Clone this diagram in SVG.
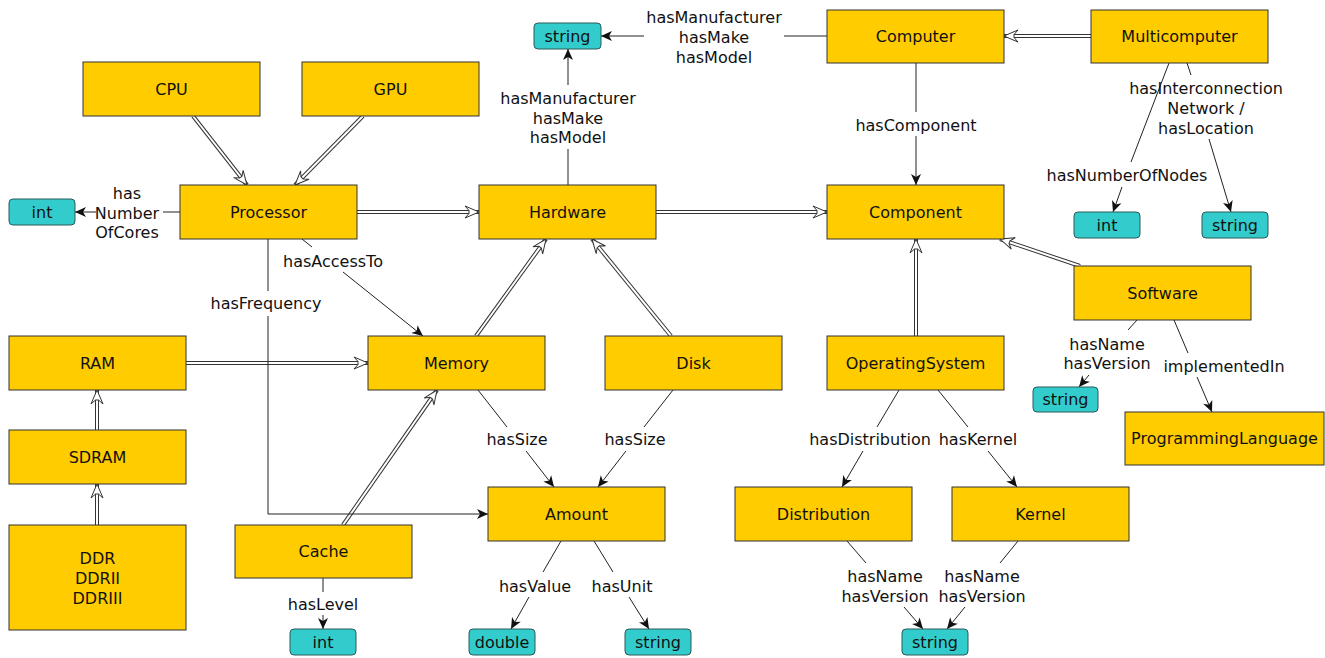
<svg xmlns="http://www.w3.org/2000/svg" width="1325" height="658" viewBox="0 0 1325 658">
<style>
.n{fill:#FFCC00;stroke:#333;stroke-width:1}
.d{fill:#33CCCC;stroke:#2a5a5a;stroke-width:1}
text{font-family:"DejaVu Sans","Liberation Sans",sans-serif;font-size:16px;text-anchor:middle;fill:#111}
.gb{fill:none;stroke:#333;stroke-width:4}
.gw{fill:none;stroke:#fff;stroke-width:2;marker-end:url(#gen)}
.a{fill:none;stroke:#222;stroke-width:1;marker-end:url(#arr)}
</style>
<defs>
<marker id="gen" markerUnits="userSpaceOnUse" viewBox="-16 -8 18 16" markerWidth="18" markerHeight="16" refX="0" refY="0" orient="auto" overflow="visible">
<path d="M0,0 L-14,-6 L-10,-1.5 L-10,1.5 L-14,6 Z" fill="#fff" stroke="#333" stroke-width="1"/>
</marker>
<marker id="arr" markerUnits="userSpaceOnUse" viewBox="-12 -6 14 12" markerWidth="14" markerHeight="12" refX="0" refY="0" orient="auto" overflow="visible">
<path d="M0,0 L-11,-5 L-8,0 L-11,5 Z" fill="#111"/>
</marker>
</defs>
<rect width="1325" height="658" fill="#fff"/>
<g id="connectors">
<path class="gb" d="M193,116 L247,185"/><path class="gw" d="M193,116 L247,185"/>
<path class="gb" d="M363,116 L295,185"/><path class="gw" d="M363,116 L295,185"/>
<path class="gb" d="M357,212 L479,212"/><path class="gw" d="M357,212 L479,212"/>
<path class="gb" d="M656,212 L827,212"/><path class="gw" d="M656,212 L827,212"/>
<path class="gb" d="M1091,36 L1004,36"/><path class="gw" d="M1091,36 L1004,36"/>
<path class="gb" d="M476,336 L546,239"/><path class="gw" d="M476,336 L546,239"/>
<path class="gb" d="M671,336 L592,239"/><path class="gw" d="M671,336 L592,239"/>
<path class="gb" d="M186,363 L368,363"/><path class="gw" d="M186,363 L368,363"/>
<path class="gb" d="M97,430 L97,390"/><path class="gw" d="M97,430 L97,390"/>
<path class="gb" d="M97,525 L97,484"/><path class="gw" d="M97,525 L97,484"/>
<path class="gb" d="M343,525 L437,390"/><path class="gw" d="M343,525 L437,390"/>
<path class="gb" d="M916,336 L916,239"/><path class="gw" d="M916,336 L916,239"/>
<path class="gb" d="M1080,266 L1000,239"/><path class="gw" d="M1080,266 L1000,239"/>

<path class="a" d="M180,212 H163 M96,212 H75"/>
<path class="a" d="M568,185 V149 M568,85 V49"/>
<path class="a" d="M827,36 H784 M644,36 H601"/>
<path class="a" d="M916,63 V112 M916,136 V185"/>
<path class="a" d="M1169,63 L1131,162 M1122,187 L1113,212"/>
<path class="a" d="M1187,63 L1191,75 M1209,139 L1231,212"/>
<path class="a" d="M302,239 L312,247 M343,272 L423,336"/>
<path class="a" d="M268,239 V291 M268,316 V514 H488"/>
<path class="a" d="M478,390 L507,427 M526,451 L554,487"/>
<path class="a" d="M673,390 L644,427 M626,451 L598,487"/>
<path class="a" d="M561,541 L543,572 M529,597 L511,629"/>
<path class="a" d="M594,541 L613,572 M629,597 L649,629"/>
<path class="a" d="M323,578 V592 M323,615 V629"/>
<path class="a" d="M899,390 L877,427 M863,451 L842,487"/>
<path class="a" d="M938,390 L968,427 M988,451 L1017,487"/>
<path class="a" d="M1137,320 L1128,330 M1089,375 L1079,387"/>
<path class="a" d="M1174,320 L1188,353 M1197,377 L1212,412"/>
<path class="a" d="M847,541 L866,563 M904,607 L923,629"/>
<path class="a" d="M1018,541 L1000,563 M965,607 L947,629"/>

<text x="127" y="199">has</text><text x="127" y="219">Number</text><text x="127" y="238">OfCores</text>
<text x="714" y="23">hasManufacturer</text><text x="714" y="43">hasMake</text><text x="714" y="63">hasModel</text>
<text x="568" y="104">hasManufacturer</text><text x="568" y="124">hasMake</text><text x="568" y="143">hasModel</text>
<text x="916" y="131">hasComponent</text>
<text x="1206" y="94">hasInterconnection</text><text x="1206" y="114">Network  /</text><text x="1206" y="134">hasLocation</text>
<text x="1127" y="181">hasNumberOfNodes</text>
<text x="333" y="267">hasAccessTo</text>
<text x="266" y="309">hasFrequency</text>
<text x="517" y="445">hasSize</text>
<text x="635" y="445">hasSize</text>
<text x="535" y="592">hasValue</text>
<text x="622" y="592">hasUnit</text>
<text x="323" y="610">hasLevel</text>
<text x="870" y="445">hasDistribution</text>
<text x="978" y="445">hasKernel</text>
<text x="1107" y="350">hasName</text><text x="1107" y="369">hasVersion</text>
<text x="1224" y="372">implementedIn</text>
<text x="885" y="582">hasName</text><text x="885" y="602">hasVersion</text>
<text x="982" y="582">hasName</text><text x="982" y="602">hasVersion</text>
</g>
<g id="cpu"><rect class="n" x="83" y="62" width="177" height="54"/><text x="171.5" y="95">CPU</text></g>
<g id="gpu"><rect class="n" x="302" y="62" width="177" height="54"/><text x="390.5" y="95">GPU</text></g>
<g id="processor"><rect class="n" x="180" y="185" width="177" height="54"/><text x="268.5" y="218">Processor</text></g>
<g id="hardware"><rect class="n" x="479" y="185" width="177" height="54"/><text x="567.5" y="218">Hardware</text></g>
<g id="computer"><rect class="n" x="827" y="10" width="177" height="53"/><text x="915.5" y="42">Computer</text></g>
<g id="multicomputer"><rect class="n" x="1091" y="10" width="177" height="53"/><text x="1179.5" y="42">Multicomputer</text></g>
<g id="component"><rect class="n" x="827" y="185" width="177" height="54"/><text x="915.5" y="218">Component</text></g>
<g id="ram"><rect class="n" x="9" y="336" width="177" height="54"/><text x="97.5" y="369">RAM</text></g>
<g id="memory"><rect class="n" x="368" y="336" width="177" height="54"/><text x="456.5" y="369">Memory</text></g>
<g id="disk"><rect class="n" x="605" y="336" width="177" height="54"/><text x="693.5" y="369">Disk</text></g>
<g id="operatingsystem"><rect class="n" x="827" y="336" width="177" height="54"/><text x="915.5" y="369">OperatingSystem</text></g>
<g id="sdram"><rect class="n" x="9" y="430" width="177" height="54"/><text x="97.5" y="463">SDRAM</text></g>
<g id="ddr"><rect class="n" x="9" y="525" width="177" height="105"/><text x="97.5" y="564">DDR</text><text x="97.5" y="584">DDRII</text><text x="97.5" y="604">DDRIII</text></g>
<g id="cache"><rect class="n" x="235" y="525" width="177" height="53"/><text x="323.5" y="557">Cache</text></g>
<g id="amount"><rect class="n" x="488" y="487" width="177" height="54"/><text x="576.5" y="520">Amount</text></g>
<g id="distribution"><rect class="n" x="735" y="487" width="177" height="54"/><text x="823.5" y="520">Distribution</text></g>
<g id="kernel"><rect class="n" x="952" y="487" width="177" height="54"/><text x="1040.5" y="520">Kernel</text></g>
<g id="software"><rect class="n" x="1074" y="266" width="177" height="54"/><text x="1162.5" y="299">Software</text></g>
<g id="programminglanguage"><rect class="n" x="1125" y="412" width="199" height="53"/><text x="1224.5" y="444">ProgrammingLanguage</text></g>
<g id="int-processor"><rect class="d" x="9" y="199" width="66" height="26" rx="4"/><text x="42" y="218">int</text></g>
<g id="string-hardware"><rect class="d" x="534" y="23" width="67" height="26" rx="4"/><text x="567.5" y="42">string</text></g>
<g id="int-multicomputer"><rect class="d" x="1074" y="212" width="66" height="26" rx="4"/><text x="1107" y="231">int</text></g>
<g id="string-multicomputer"><rect class="d" x="1202" y="212" width="66" height="26" rx="4"/><text x="1235" y="231">string</text></g>
<g id="string-software"><rect class="d" x="1033" y="387" width="65" height="25" rx="4"/><text x="1065.5" y="405">string</text></g>
<g id="int-cache"><rect class="d" x="290" y="629" width="66" height="26" rx="4"/><text x="323" y="648">int</text></g>
<g id="double"><rect class="d" x="469" y="629" width="66" height="26" rx="4"/><text x="502" y="648">double</text></g>
<g id="string-amount"><rect class="d" x="625" y="629" width="66" height="26" rx="4"/><text x="658" y="648">string</text></g>
<g id="string-os"><rect class="d" x="902" y="629" width="66" height="26" rx="4"/><text x="935" y="648">string</text></g>
</svg>
